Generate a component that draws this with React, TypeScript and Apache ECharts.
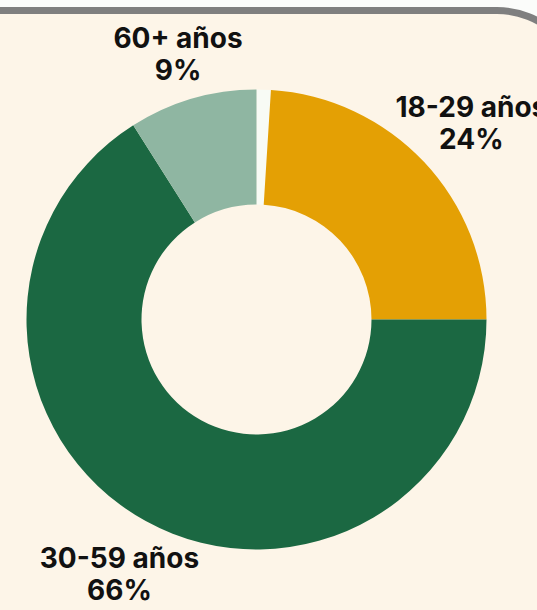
import React, { useEffect, useRef } from "react";
import * as echarts from "echarts";

const categories = ["", "18-29 años", "30-59 años", "60+ años"];
const values = [1, 24, 66, 9];
const colors = ["#f8fbf5", "#e4a004", "#1b6842", "#8fb6a2"];

const CX = 256.5;
const CY = 319.5;
const R_IN = 115;
const R_OUT = 230;
const LABEL_ANCHOR = 248;
const LABEL_DY = 5;

export default function App() {
  const ref = useRef<HTMLDivElement>(null);
  useEffect(() => {
    if (!ref.current) return;
    const chart = echarts.init(ref.current, undefined, { renderer: "svg" });
    const total = values.reduce((a, b) => a + b, 0);
    const cum: number[] = [];
    let acc = 0;
    values.forEach((v) => {
      cum.push(acc + v / 2);
      acc += v;
    });
    chart.setOption({
      animation: false,
      backgroundColor: "#fbfcfa",
      graphic: [
        {
          type: "rect",
          z: -10,
          silent: true,
          shape: { x: -100, y: 10.5, width: 682, height: 800, r: 85 },
          style: { fill: "#fdf5e8", stroke: "#7f7f7f", lineWidth: 7 },
        },
      ],
      series: [
        {
          type: "pie",
          center: [CX, CY],
          radius: [R_IN, R_OUT],
          startAngle: 90,
          clockwise: true,
          avoidLabelOverlap: false,
          silent: true,
          data: categories.map((c, i) => ({
            name: c,
            value: values[i],
            itemStyle: { color: colors[i] },
            label: { show: i !== 0 },
          })),
          label: {
            show: true,
            position: "outside",
            formatter: "{b}\n{d}%",
            fontFamily: "Inter, sans-serif",
            fontWeight: 700,
            fontSize: 28,
            lineHeight: 32,
            color: "#111111",
            align: "center",
          },
          labelLine: { show: false },
          labelLayout: (params: any) => {
            const i = params.dataIndex;
            const ang = (cum[i] / total) * 2 * Math.PI;
            const dx = Math.sin(ang);
            const dy = -Math.cos(ang);
            const w = params.labelRect.width / 2;
            const h = params.labelRect.height / 2;
            const ext = Math.min(
              Math.abs(dx) > 1e-6 ? w / Math.abs(dx) : Infinity,
              Math.abs(dy) > 1e-6 ? h / Math.abs(dy) : Infinity
            );
            const d = LABEL_ANCHOR + ext;
            return {
              x: CX + dx * d,
              y: CY + dy * d + LABEL_DY,
              align: "center",
              verticalAlign: "middle",
            };
          },
        },
      ],
    });
    return () => chart.dispose();
  }, []);
  return (
    <div
      ref={ref}
      style={{ position: "absolute", left: 0, top: 0, width: 537, height: 610 }}
    />
  );
}
